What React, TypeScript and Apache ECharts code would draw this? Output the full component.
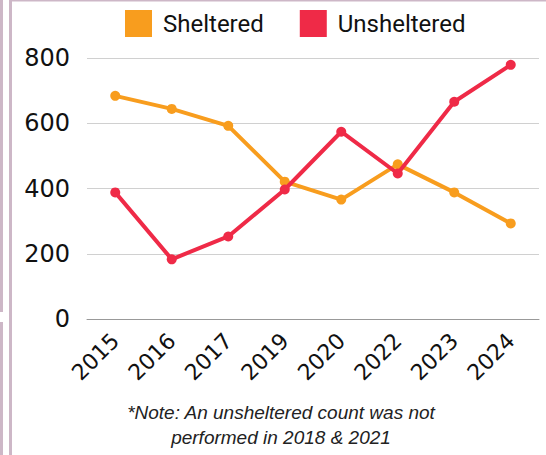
import React, { useEffect, useRef } from "react";
import * as echarts from "echarts";

const years = ["2015", "2016", "2017", "2019", "2020", "2022", "2023", "2024"];
const sheltered = [684, 644, 592, 421, 366, 474, 388, 293];
const unsheltered = [388, 183, 253, 397, 574, 446, 666, 779];
const yTicks = [0, 200, 400, 600, 800];
const noteLines = ["*Note: An unsheltered count was not", "performed in 2018 & 2021"];

const ORANGE = "#F89D1E";
const RED = "#EF2A47";
const FRAME = "#CDB7C7";
const FONT = "Roboto, 'Noto Sans', sans-serif";
const NUMFONT = "'DejaVu Sans', sans-serif";

export default function App() {
  const ref = useRef<HTMLDivElement>(null);
  useEffect(() => {
    if (!ref.current) return;
    const chart = echarts.init(ref.current, null, { renderer: "svg" });
    chart.setOption({
      animation: false,
      backgroundColor: "#fff",
      textStyle: { fontFamily: FONT },
      legend: {
        top: 10,
        left: 125,
        itemWidth: 27,
        itemHeight: 27,
        itemGap: 36,
        padding: 0,
        icon: "rect",
        textStyle: { fontSize: 24, color: "#111", fontFamily: FONT, padding: [0, 0, 0, 6] },
        data: ["Sheltered", "Unsheltered"],
      },
      grid: { left: 87, right: 7, top: 58, bottom: 136, containLabel: false },
      xAxis: {
        type: "category",
        data: years,
        boundaryGap: true,
        axisLine: { lineStyle: { color: "#999", width: 1 } },
        axisTick: { show: false },
        axisLabel: {
          interval: 0,
          rotate: 45,
          fontSize: 22,
          color: "#111",
          margin: 18,
          fontFamily: NUMFONT,
        },
      },
      yAxis: {
        type: "value",
        min: yTicks[0],
        max: yTicks[yTicks.length - 1],
        interval: 200,
        axisLine: { show: false },
        axisTick: { show: false },
        splitLine: { lineStyle: { color: "#d0d0d0", width: 1 } },
        axisLabel: { fontSize: 24, color: "#111", margin: 17, fontFamily: NUMFONT },
      },
      series: [
        {
          name: "Sheltered",
          type: "line",
          data: sheltered,
          color: ORANGE,
          symbol: "circle",
          symbolSize: 10,
          lineStyle: { width: 4, color: ORANGE },
          itemStyle: { color: ORANGE },
          z: 2,
        },
        {
          name: "Unsheltered",
          type: "line",
          data: unsheltered,
          color: RED,
          symbol: "circle",
          symbolSize: 10,
          lineStyle: { width: 4, color: RED },
          itemStyle: { color: RED },
          z: 3,
        },
      ],
      graphic: [
        { type: "rect", shape: { x: 0, y: 0, width: 3, height: 312 }, style: { fill: FRAME } },
        { type: "rect", shape: { x: 0, y: 322, width: 3, height: 133 }, style: { fill: FRAME } },
        { type: "rect", shape: { x: 9, y: 0, width: 3, height: 455 }, style: { fill: FRAME } },
        { type: "rect", shape: { x: 9, y: 0, width: 537, height: 1.5 }, style: { fill: FRAME } },
        {
          type: "text",
          x: 281,
          y: 412,
          style: {
            text: noteLines[0],
            fontSize: 19,
            fontStyle: "italic",
            fontFamily: "'Liberation Sans', Arial, sans-serif",
            fill: "#222",
            align: "center",
            verticalAlign: "middle",
          },
        },
        {
          type: "text",
          x: 281,
          y: 437,
          style: {
            text: noteLines[1],
            fontSize: 19,
            fontStyle: "italic",
            fontFamily: "'Liberation Sans', Arial, sans-serif",
            fill: "#222",
            align: "center",
            verticalAlign: "middle",
          },
        },
      ],
    });
    return () => chart.dispose();
  }, []);
  return (
    <div
      ref={ref}
      style={{ position: "fixed", left: 0, top: 0, width: 546, height: 455 }}
    />
  );
}
